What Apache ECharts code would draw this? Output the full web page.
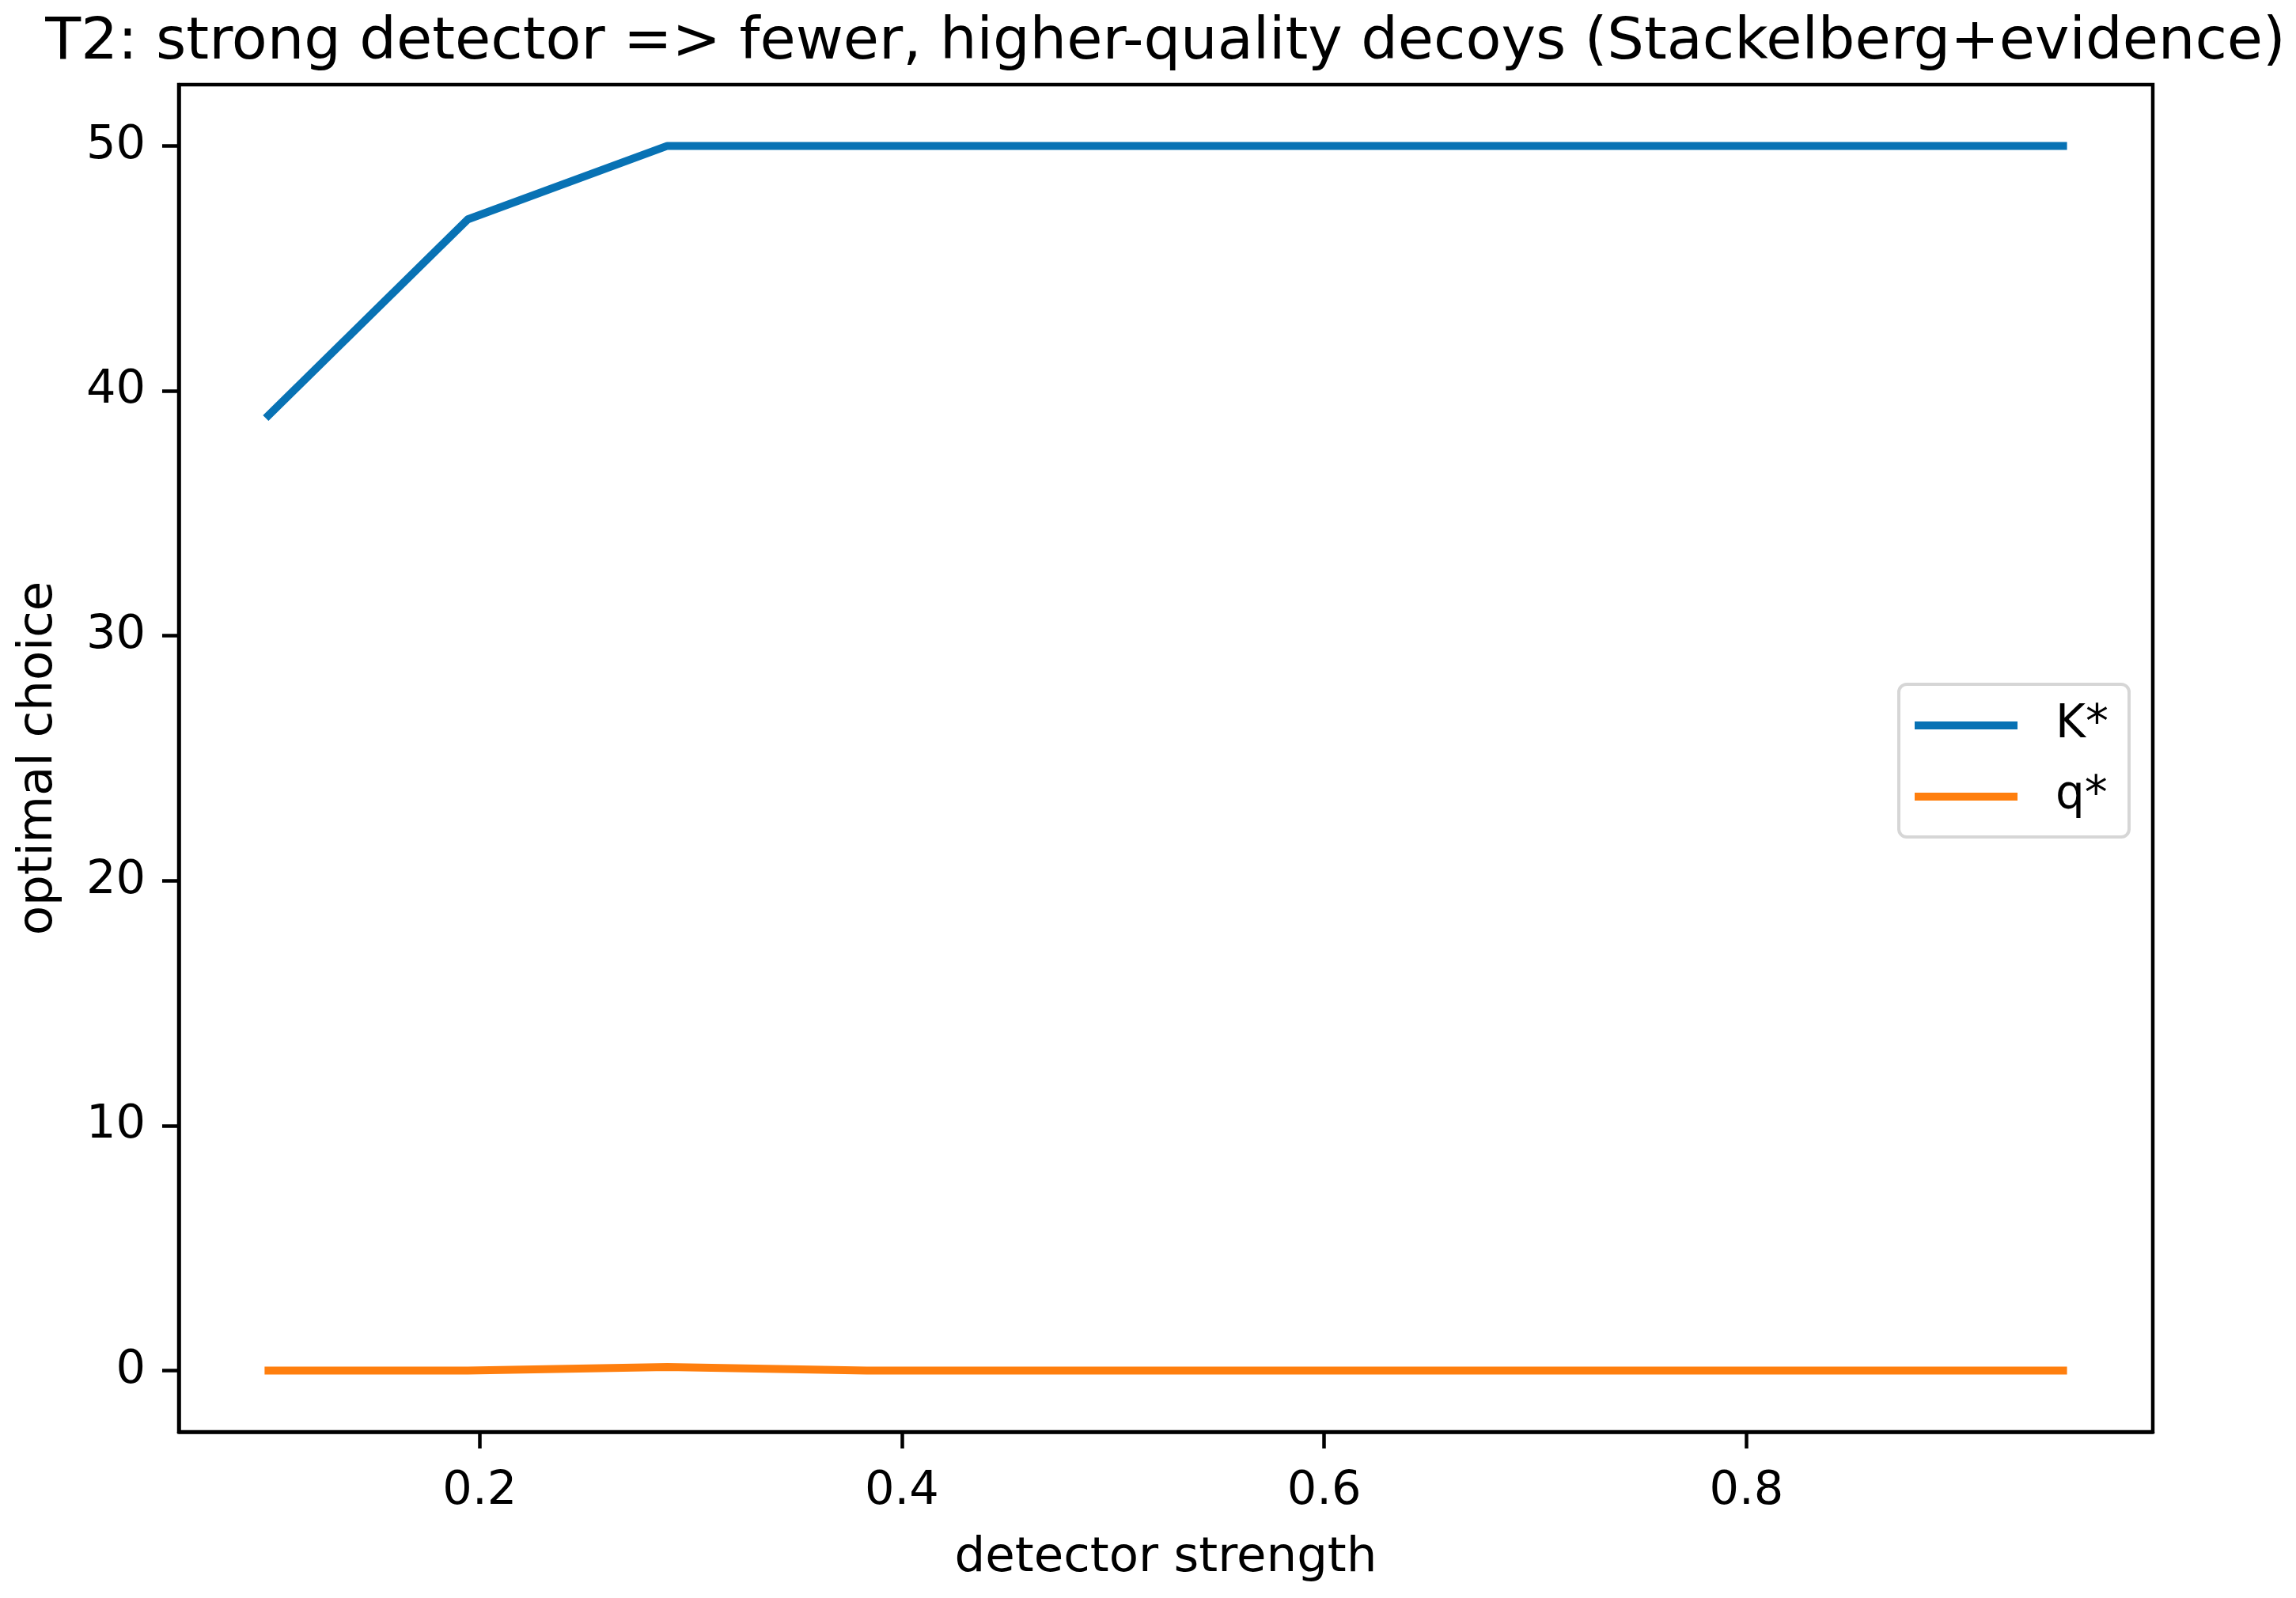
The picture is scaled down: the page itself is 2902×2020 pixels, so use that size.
<!DOCTYPE html>
<html>
<head>
<meta charset="utf-8">
<script src="https://cdn.jsdelivr.net/npm/echarts@6/dist/echarts.min.js"></script>
<style>
html,body{margin:0;padding:0;background:#fff;}
#chart{width:2902px;height:2020px;}
</style>
</head>
<body>
<div id="chart"></div>
<script>
// ---- data ----
const detectorStrength = [0.1, 0.1944, 0.2889, 0.3833, 0.4778, 0.5722, 0.6667, 0.7611, 0.8556, 0.95];
const kStar = [39, 47, 50, 50, 50, 50, 50, 50, 50, 50];
const qStar = [0, 0, 0.15, 0, 0, 0, 0, 0, 0, 0];
const xTicks = [0.2, 0.4, 0.6, 0.8];
const yTicks = [0, 10, 20, 30, 40, 50];
const seriesNames = ['K*', 'q*'];
const titleText = 'T2: strong detector => fewer, higher-quality decoys (Stackelberg+evidence)';
const xLabel = 'detector strength';
const yLabel = 'optimal choice';

const FONT = 'DejaVu Sans';
const BLUE = '#0872b4';
const ORANGE = '#ff7f0e';
const chart = echarts.init(document.getElementById('chart'), null, {renderer: 'canvas'});
const pair = (xs, ys) => xs.map((x, i) => [x, ys[i]]);

chart.setOption({
  animation: false,
  backgroundColor: '#ffffff',
  title: {
    text: titleText,
    left: 1473,
    textAlign: 'center',
    top: 18,
    padding: 0,
    textStyle: {fontFamily: FONT, fontSize: 73.5, fontWeight: 'normal', color: '#000'}
  },
  grid: {
    left: 226, right: 181, top: 107, bottom: 210,
    show: true, borderColor: '#000', borderWidth: 4.5, backgroundColor: 'transparent'
  },
  legend: {
    orient: 'vertical',
    left: 2400, top: 865,
    padding: [22, 26, 21, 20],
    itemWidth: 130, itemHeight: 10, itemGap: 30,
    icon: 'rect',
    backgroundColor: '#fff',
    borderColor: '#d6d6d6', borderWidth: 4, borderRadius: 10,
    textStyle: {fontFamily: FONT, fontSize: 58, color: '#000', lineHeight: 60, padding: [0, 0, 0, 43]},
    data: [
      {name: seriesNames[0], itemStyle: {color: BLUE}},
      {name: seriesNames[1], itemStyle: {color: ORANGE}}
    ]
  },
  xAxis: {
    type: 'value',
    min: 0.0575, max: 0.9925,
    name: xLabel,
    nameLocation: 'middle',
    nameGap: 130,
    nameTextStyle: {fontFamily: FONT, fontSize: 61, color: '#000'},
    splitLine: {show: false},
    axisLine: {show: true, onZero: false, lineStyle: {color: '#000', width: 4.5}},
    axisTick: {show: true, length: 21, lineStyle: {color: '#000', width: 4.5}, customValues: xTicks},
    axisLabel: {fontFamily: FONT, fontSize: 59, color: '#000', margin: 46, customValues: xTicks,
      formatter: v => v.toFixed(1)}
  },
  yAxis: {
    type: 'value',
    min: -2.5, max: 52.5,
    name: yLabel,
    nameLocation: 'middle',
    nameGap: 146,
    nameRotate: 90,
    nameTextStyle: {fontFamily: FONT, fontSize: 61, color: '#000'},
    splitLine: {show: false},
    axisLine: {show: true, onZero: false, lineStyle: {color: '#000', width: 4.5}},
    axisTick: {show: true, length: 21, lineStyle: {color: '#000', width: 4.5}, customValues: yTicks},
    axisLabel: {fontFamily: FONT, fontSize: 59, color: '#000', margin: 42, customValues: yTicks,
      formatter: v => String(v)}
  },
  series: [
    {name: seriesNames[0], type: 'line', data: pair(detectorStrength, kStar), symbol: 'none',
     lineStyle: {color: BLUE, width: 10, cap: 'square', join: 'round'}, itemStyle: {color: BLUE}},
    {name: seriesNames[1], type: 'line', data: pair(detectorStrength, qStar), symbol: 'none',
     lineStyle: {color: ORANGE, width: 10, cap: 'square', join: 'round'}, itemStyle: {color: ORANGE}}
  ]
});
</script>
</body>
</html>
